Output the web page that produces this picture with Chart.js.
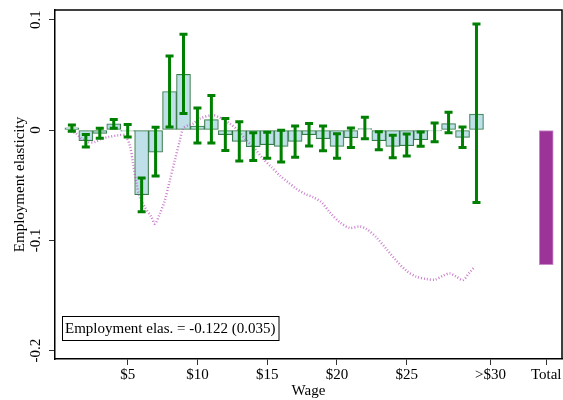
<!DOCTYPE html>
<html>
<head>
<meta charset="utf-8">
<script src="https://cdn.jsdelivr.net/npm/chart.js@4"></script>
<style>
  html, body { margin: 0; padding: 0; background: #fff; }
</style>
</head>
<body>
<canvas id="chart" width="563" height="400"></canvas>
<script>
// wage bins ($1 each) and estimated employment elasticities
const wageBins = [1, 2, 3, 4, 5, 6, 7, 8, 9, 10, 11, 12, 13, 14, 15, 16, 17, 18, 19, 20, 21, 22, 23, 24, 25, 26, 27, 28, 29, 30];
const binValues = [0.002, -0.0097, -0.003, 0.0055, -0.001, -0.0587, -0.020, 0.0349, 0.0504, 0.0036,
  0.0094, -0.0042, -0.0103, -0.015, -0.0133, -0.0148, -0.0103, -0.0042, -0.0079, -0.0148,
  -0.007, 0.0012, -0.0097, -0.0148, -0.0142, -0.0088, -0.0009, 0.0058, -0.0067, 0.0145];
const ciLow = [-0.0012, -0.0155, -0.0075, 0.0015, -0.0064, -0.074, -0.0418, 0.0027, 0.0149, -0.0118,
  -0.0118, -0.0185, -0.028, -0.0276, -0.0255, -0.029, -0.0248, -0.0145, -0.0188, -0.0255,
  -0.0158, -0.0079, -0.0179, -0.0252, -0.0236, -0.0148, -0.0106, -0.0024, -0.0158, -0.0657];
const ciHigh = [0.0045, -0.004, 0.0015, 0.0095, 0.005, -0.0436, 0.0025, 0.067, 0.0869, 0.020,
  0.0313, 0.0104, 0.0076, -0.0024, -0.0021, -0.0003, 0.0036, 0.006, 0.0036, -0.0033,
  0.0018, 0.0115, -0.0015, -0.0048, -0.0036, -0.0018, 0.0064, 0.016, 0.0027, 0.0961];

// total elasticity bar
const totalPos = [35];
const totalValue = [-0.122];

// running (cumulative) change, dotted line
const curveWage = [0.7, 1.27, 1.69, 2.17, 2.65, 3.13, 3.6, 4.32, 4.8, 5.15, 5.39, 5.63, 5.87, 6.23, 6.71, 6.95,
  7.3, 7.66, 8.02, 8.38, 8.74, 8.98, 9.33, 9.69, 10.17, 11.12, 11.72, 12.32, 12.91, 13.51, 14.11,
  14.7, 15.3, 15.9, 16.49, 17.09, 17.69, 18.29, 18.89, 19.48, 20.2, 20.91, 21.63, 22.1, 22.82,
  23.54, 24.26, 24.97, 25.69, 26.41, 27.0, 27.6, 28.08, 28.56, 29.03, 29.51, 29.87];
const curveValue = [-0.001, -0.0027, -0.0078, -0.0109, -0.0109, -0.0078, -0.0064, -0.0048, -0.0048, -0.0139,
  -0.0306, -0.0487, -0.0609, -0.07, -0.079, -0.0851, -0.076, -0.0639, -0.0457, -0.0275, -0.0094,
  0.0013, 0.0043, 0.0058, 0.0104, 0.0134, 0.0104, 0.0058, -0.0003, -0.0094, -0.0169, -0.026,
  -0.0336, -0.0412, -0.0473, -0.0533, -0.0578, -0.0609, -0.0655, -0.0745, -0.0836, -0.0887,
  -0.0875, -0.0896, -0.0973, -0.1078, -0.1185, -0.1275, -0.133, -0.1351, -0.1357, -0.1321,
  -0.13, -0.133, -0.136, -0.1291, -0.1239];

// axis ticks
const xTickValues = [5, 10, 15, 20, 25, 31, 35];
const xTickLabels = ['$5', '$10', '$15', '$20', '$25', '>$30', 'Total'];
const yTickValues = [-0.2, -0.1, 0, 0.1];
const yTickLabels = ['-0.2', '-0.1', '0', '0.1'];

const noteText = 'Employment elas. = -0.122 (0.035)';
const serif = '"Liberation Serif", "Times New Roman", serif';

// frame, error bars and the note box
const extras = {
  id: 'extras',
  afterDatasetsDraw(chart) {
    const { ctx, scales: { x, y } } = chart;
    ctx.save();
    ctx.strokeStyle = '#008000';
    ctx.lineWidth = 3;
    ctx.lineCap = 'butt';
    wageBins.forEach((w, i) => {
      const px = x.getPixelForValue(w);
      const yLo = y.getPixelForValue(ciLow[i]);
      const yHi = y.getPixelForValue(ciHigh[i]);
      ctx.beginPath();
      ctx.moveTo(px, yLo);
      ctx.lineTo(px, yHi);
      ctx.moveTo(px - 4, yLo);
      ctx.lineTo(px + 4, yLo);
      ctx.moveTo(px - 4, yHi);
      ctx.lineTo(px + 4, yHi);
      ctx.stroke();
    });
    ctx.restore();
  },
  afterDraw(chart) {
    const { ctx, chartArea: a } = chart;
    ctx.save();
    ctx.strokeStyle = '#000';
    ctx.lineWidth = 1.5;
    ctx.beginPath();
    ctx.moveTo(a.left, a.top);
    ctx.lineTo(a.right, a.top);
    ctx.lineTo(a.right, a.bottom);
    ctx.stroke();

    // note box
    const bx = a.left + 7, by = a.bottom - 43;
    ctx.font = '15px ' + serif;
    const tw = ctx.measureText(noteText).width;
    ctx.fillStyle = '#fff';
    ctx.fillRect(bx, by, tw + 6, 24);
    ctx.lineWidth = 1;
    ctx.strokeRect(bx + 0.5, by + 0.5, tw + 6, 24);
    ctx.fillStyle = '#000';
    ctx.textBaseline = 'middle';
    ctx.textAlign = 'left';
    ctx.fillText(noteText, bx + 3, by + 13);
    ctx.restore();
  }
};

new Chart(document.getElementById('chart'), {
  type: 'bar',
  data: {
    datasets: [
      {
        type: 'line',
        data: curveWage.map((w, i) => ({ x: w, y: curveValue[i] })),
        borderColor: 'rgba(185, 85, 190, 0.75)',
        borderWidth: 2.5,
        borderDash: [1, 2],
        pointRadius: 0,
        tension: 0.3,
        fill: false,
        order: 0
      },
      {
        data: wageBins.map((w, i) => ({ x: w, y: binValues[i] })),
        backgroundColor: 'rgba(180, 218, 228, 0.85)',
        borderColor: 'rgba(20, 100, 40, 0.85)',
        borderWidth: 1,
        borderSkipped: false,
        barPercentage: 1,
        categoryPercentage: 1,
        grouped: false,
        order: 1
      },
      {
        data: totalPos.map((p, i) => ({ x: p, y: totalValue[i] })),
        backgroundColor: '#9b3399',
        borderColor: '#c98ac9',
        borderWidth: 1,
        borderSkipped: false,
        barPercentage: 1,
        categoryPercentage: 1,
        grouped: false,
        order: 1
      }
    ]
  },
  options: {
    responsive: false,
    animation: false,
    devicePixelRatio: 1,
    layout: { padding: { top: 10, right: 1, left: 0, bottom: 0 } },
    plugins: { legend: { display: false }, tooltip: { enabled: false } },
    scales: {
      x: {
        type: 'linear',
        offset: false,
        min: -0.21,
        max: 36.13,
        afterBuildTicks: s => { s.ticks = xTickValues.map(v => ({ value: v })); },
        afterFit: s => { s.height = 41; },
        ticks: {
          autoSkip: false,
          maxRotation: 0,
          padding: 1,
          color: '#000',
          font: { family: serif, size: 15 },
          callback: v => xTickLabels[xTickValues.indexOf(v)]
        },
        grid: { offset: false, drawOnChartArea: false, drawTicks: true, tickLength: 6, color: '#333' },
        border: { display: true, color: '#000', width: 1.5 },
        title: {
          display: true,
          text: 'Wage',
          color: '#000',
          font: { family: serif, size: 15 },
          padding: { top: 0, bottom: 0 }
        }
      },
      y: {
        min: -0.2076,
        max: 0.1088,
        afterBuildTicks: s => { s.ticks = yTickValues.map(v => ({ value: v })); },
        afterFit: s => { s.width = 55; },
        ticks: {
          autoSkip: false,
          minRotation: 90,
          maxRotation: 90,
          crossAlign: 'center',
          padding: 1,
          color: '#000',
          font: { family: serif, size: 15 },
          callback: v => yTickLabels[yTickValues.indexOf(v)]
        },
        grid: { offset: false, drawOnChartArea: false, drawTicks: true, tickLength: 6, color: '#333' },
        border: { display: true, color: '#000', width: 1.5 },
        title: {
          display: true,
          text: 'Employment elasticity',
          color: '#000',
          font: { family: serif, size: 15 },
          padding: { top: 11, bottom: 0 }
        }
      }
    }
  },
  plugins: [extras]
});
</script>
</body>
</html>
